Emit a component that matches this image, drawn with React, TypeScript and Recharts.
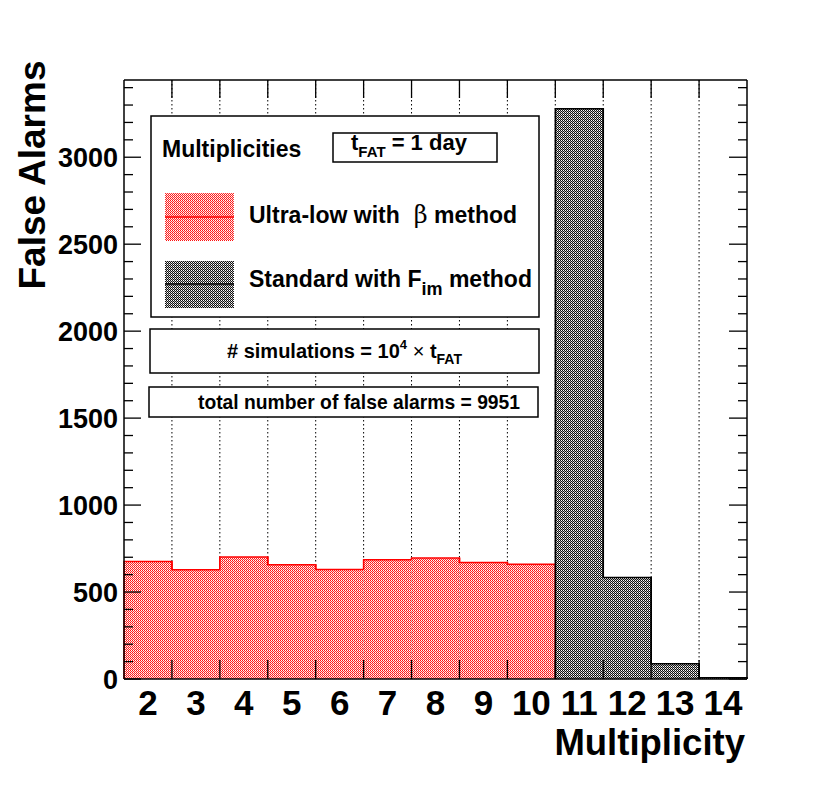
import React from 'react'
import { BarChart, Bar, XAxis, YAxis, CartesianGrid } from 'recharts'

// bins of the multiplicity histogram
const bins = [2, 3, 4, 5, 6, 7, 8, 9, 10, 11, 12, 13, 14]
// ultra-low with beta method (bins 2..10)
const ultraLow = [676, 628, 701, 657, 630, 686, 695, 670, 660, 0, 0, 0, 0]
// standard with F_im method (bins 11..14)
const standard = [0, 0, 0, 0, 0, 0, 0, 0, 0, 3278, 584, 87, 7]
const yTicks = [
  0, 100, 200, 300, 400, 500, 600, 700, 800, 900, 1000, 1100, 1200, 1300, 1400, 1500, 1600, 1700,
  1800, 1900, 2000, 2100, 2200, 2300, 2400, 2500, 2600, 2700, 2800, 2900, 3000, 3100, 3200, 3300, 3400,
]
const yMax = 3444

const data = bins.map((bin, i) => ({ bin, ultra: ultraLow[i], standard: standard[i] }))

const FONT = '"Liberation Sans", Arial, Helvetica, sans-serif'

// histogram step outline: top edge plus the vertical steps to the neighbouring bins
const histShape = (values: number[], line: string, fill: string) => (props: any) => {
  const { x, y, width, height, index } = props
  const v = values[index]
  if (x == null || y == null || !v) return <g />
  const h = Math.max(height || 0, 0)
  const base = y + h
  const k = h / v
  const prev = index > 0 ? values[index - 1] : 0
  const next = index < values.length - 1 ? values[index + 1] : 0
  const yPrev = base - prev * k
  const yNext = base - next * k
  return (
    <g>
      <rect x={x} y={y} width={width} height={h} fill={fill} />
      <path
        d={`M${x},${yPrev}V${y}H${x + width}V${yNext}`}
        fill="none"
        stroke={line}
        strokeWidth={1.5}
      />
    </g>
  )
}

const LeftTick = (props: any) => {
  const { x, y, payload } = props
  const major = payload.value % 500 === 0
  return (
    <g>
      <line x1={x} y1={y} x2={x + (major ? 17 : 9)} y2={y} stroke="#000" strokeWidth={1.3} />
      {major && (
        <text x={x - 6} y={y} dy="0.36em" textAnchor="end" fontFamily={FONT} fontWeight="bold" fontSize={27} fill="#000">
          {payload.value}
        </text>
      )}
    </g>
  )
}

const RightTick = (props: any) => {
  const { x, y, payload } = props
  const major = payload.value % 500 === 0
  return <line x1={x} y1={y} x2={x - (major ? 18 : 9)} y2={y} stroke="#000" strokeWidth={1.3} />
}

const BottomTick = (props: any) => {
  const { x, y, payload, index, width, visibleTicksCount } = props
  const band = width / visibleTicksCount
  return (
    <g>
      {index > 0 && (
        <line x1={x - band / 2} y1={y} x2={x - band / 2} y2={y - 19} stroke="#000" strokeWidth={1.3} />
      )}
      <text x={x} y={y + 36} textAnchor="middle" fontFamily={FONT} fontWeight="bold" fontSize={35} fill="#000">
        {payload.value}
      </text>
    </g>
  )
}

const TopTick = (props: any) => {
  const { x, y, index, width, visibleTicksCount } = props
  const band = width / visibleTicksCount
  if (index === 0) return <g />
  return <line x1={x - band / 2} y1={y} x2={x - band / 2} y2={y + 18} stroke="#000" strokeWidth={1.3} />
}

const edgeGenerator = ({ offset }: any) => {
  const band = offset.width / bins.length
  return bins.slice(1).map((_, i) => offset.left + band * (i + 1))
}

function Patterns() {
  return (
    <svg width={0} height={0} style={{ position: 'absolute' }}>
      <defs>
        <pattern id="redDots" width={2} height={2} patternUnits="userSpaceOnUse">
          <rect width={2} height={2} fill="#ff1010" />
          <rect x={1} y={0} width={1} height={1} fill="#ffffff" />
          <rect x={0} y={1} width={1} height={1} fill="#ffd0d0" />
          <rect x={1} y={1} width={1} height={1} fill="#ff3030" />
        </pattern>
        <pattern id="grayDots" width={2} height={2} patternUnits="userSpaceOnUse">
          <rect width={2} height={2} fill="#111" />
          <rect x={1} y={0} width={1} height={1} fill="#ffffff" />
          <rect x={0} y={1} width={1} height={1} fill="#b0b0b0" />
        </pattern>
      </defs>
    </svg>
  )
}

function Overlay() {
  const bold = { fontFamily: FONT, fontWeight: 'bold' as const, fill: '#000' }
  return (
    <svg width={830} height={800} style={{ position: 'absolute', left: 0, top: 0, pointerEvents: 'none' }}>
      {/* axis titles */}
      <text transform="translate(45,175) rotate(-90)" textAnchor="middle" fontSize={37} {...bold}>
        False Alarms
      </text>
      <text x={745} y={755} textAnchor="end" fontSize={36.5} {...bold}>
        Multiplicity
      </text>

      {/* legend */}
      <rect x={151} y={116} width={388} height={201} fill="#fff" stroke="#000" strokeWidth={1.5} />
      <text x={162} y={157} fontSize={23} {...bold}>
        Multiplicities
      </text>
      <rect x={333} y={133} width={164} height={29} fill="none" stroke="#000" strokeWidth={1.5} />
      <text x={351} y={150} fontSize={22} {...bold}>
        t<tspan fontSize={15} dy={7}>FAT</tspan>
        <tspan dy={-7}> = 1 day</tspan>
      </text>

      <rect x={165} y={193} width={69} height={48} fill="url(#redDots)" />
      <line x1={165} y1={217} x2={234} y2={217} stroke="#ff0000" strokeWidth={1.5} />
      <text x={249} y={223} fontSize={23} {...bold}>
        Ultra-low with{' '}
        <tspan fontFamily='"DejaVu Serif", "Liberation Serif", serif' fontWeight="normal" fontSize={24}>
          {'\u00a0\u03b2'}
        </tspan>{' '}
        method
      </text>

      <rect x={165} y={261} width={69} height={47} fill="url(#grayDots)" />
      <line x1={165} y1={284} x2={234} y2={284} stroke="#000" strokeWidth={1.5} />
      <text x={249} y={287} fontSize={23} {...bold}>
        Standard with F<tspan fontSize={18} dy={8}>im</tspan>
        <tspan dy={-8}> method</tspan>
      </text>

      <rect x={150} y={329} width={389} height={44} fill="#fff" stroke="#000" strokeWidth={1.5} />
      <text x={227} y={358} fontSize={20} {...bold}>
        # simulations = 10<tspan fontSize={13} dy={-9}>4</tspan>
        <tspan dy={9} fontWeight="normal"> {'\u00d7'} </tspan>t<tspan fontSize={14} dy={6}>FAT</tspan>
      </text>

      <rect x={149} y={387} width={389} height={30} fill="#fff" stroke="#000" strokeWidth={1.5} />
      <text x={198} y={409} fontSize={19.3} {...bold}>
        total number of false alarms = 9951
      </text>
    </svg>
  )
}

export default function App() {
  return (
    <div style={{ position: 'absolute', left: 0, top: 0, width: 830, height: 800, background: '#fff' }}>
      <Patterns />
      <BarChart
        width={830}
        height={800}
        data={data}
        margin={{ top: 0, right: 0, bottom: 0, left: 0 }}
        barCategoryGap={0}
        barGap={0}
      >
        <XAxis
          dataKey="bin"
          height={121}
          interval={0}
          tickSize={0}
          tickMargin={0}
          tick={<BottomTick />}
          axisLine={{ stroke: '#000', strokeWidth: 1.5 }}
          tickLine={false}
        />
        <XAxis
          xAxisId="top"
          dataKey="bin"
          orientation="top"
          height={80}
          interval={0}
          tickSize={0}
          tickMargin={0}
          tick={<TopTick />}
          axisLine={{ stroke: '#000', strokeWidth: 1.5 }}
          tickLine={false}
        />
        <YAxis
          width={124}
          type="number"
          domain={[0, yMax]}
          ticks={yTicks}
          interval={0}
          allowDataOverflow
          tickSize={0}
          tickMargin={0}
          tick={<LeftTick />}
          axisLine={{ stroke: '#000', strokeWidth: 1.5 }}
          tickLine={false}
        />
        <YAxis
          yAxisId="right"
          orientation="right"
          width={83}
          type="number"
          domain={[0, yMax]}
          ticks={yTicks}
          interval={0}
          allowDataOverflow
          tickSize={0}
          tickMargin={0}
          tick={<RightTick />}
          axisLine={{ stroke: '#000', strokeWidth: 1.5 }}
          tickLine={false}
        />
        <Bar dataKey="ultra" stackId="h" isAnimationActive={false} shape={histShape(ultraLow, '#ff0000', 'url(#redDots)')} />
        <Bar dataKey="standard" stackId="h" isAnimationActive={false} shape={histShape(standard, '#000000', 'url(#grayDots)')} />
        <CartesianGrid
          horizontal={false}
          verticalCoordinatesGenerator={edgeGenerator}
          stroke="#000"
          strokeDasharray="1.5 2.5"
          strokeWidth={1}
        />
      </BarChart>
      <Overlay />
    </div>
  )
}
